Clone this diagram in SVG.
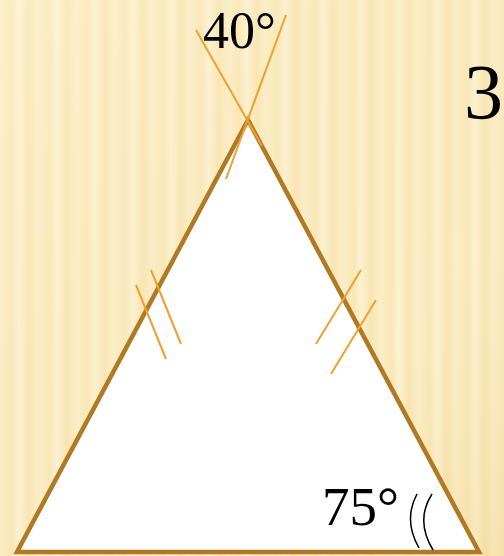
<svg xmlns="http://www.w3.org/2000/svg" width="504" height="556" viewBox="0 0 504 556">
<defs>
<linearGradient id="stripe" x1="0" y1="0" x2="1" y2="0">
<stop offset="0" stop-color="#FBEEC9"/>
<stop offset="0.3" stop-color="#F9E7B7"/>
<stop offset="0.5" stop-color="#FCF2D4"/>
<stop offset="0.75" stop-color="#F8E5B3"/>
<stop offset="1" stop-color="#FBEEC9"/>
</linearGradient>
<pattern id="bg" x="0" y="0" width="38" height="556" patternUnits="userSpaceOnUse">
<rect width="38" height="556" fill="url(#stripe)"/>
</pattern>
<linearGradient id="shade" x1="0" y1="0" x2="1" y2="1">
<stop offset="0" stop-color="#FFF6DA" stop-opacity="0.3"/>
<stop offset="0.7" stop-color="#F5DCA0" stop-opacity="0"/>
<stop offset="1" stop-color="#EFD08A" stop-opacity="0.35"/>
</linearGradient>
<style>
.tri{fill:#FFFFFF;stroke:#B07A24;stroke-width:4.5;stroke-linejoin:miter}
.mark{stroke:#F0A02C;stroke-width:2;fill:none;stroke-linecap:butt}
.arc{stroke:#000;stroke-width:1.5;fill:none}
.lbl{font-family:"Liberation Serif","Times New Roman",serif;fill:#000}
</style>
</defs>
<rect width="504" height="556" fill="url(#bg)"/>
<rect width="504" height="556" fill="url(#shade)"/>
<g id="triangle">
<polygon class="tri" points="248,120 17,552 479,552"/>
</g>
<g id="connectors">
<line class="mark" x1="196" y1="30" x2="262" y2="146"/>
<line class="mark" x1="286" y1="15" x2="226" y2="179"/>
<line class="mark" x1="136" y1="285" x2="166" y2="359"/>
<line class="mark" x1="151" y1="270" x2="181" y2="344"/>
<line class="mark" x1="361" y1="270" x2="316" y2="344"/>
<line class="mark" x1="376" y1="300" x2="331" y2="374"/>
<path class="arc" d="M417,494 Q403,520 419,548"/>
<path class="arc" d="M432,494 Q415,520 433,550"/>
</g>
<g id="label-40">
<text class="lbl" x="203" y="48" font-size="52">40°</text>
</g>
<g id="label-3">
<text class="lbl" x="464" y="118" font-size="78">3</text>
</g>
<g id="label-75">
<text class="lbl" x="322" y="525" font-size="55">75°</text>
</g>
</svg>
